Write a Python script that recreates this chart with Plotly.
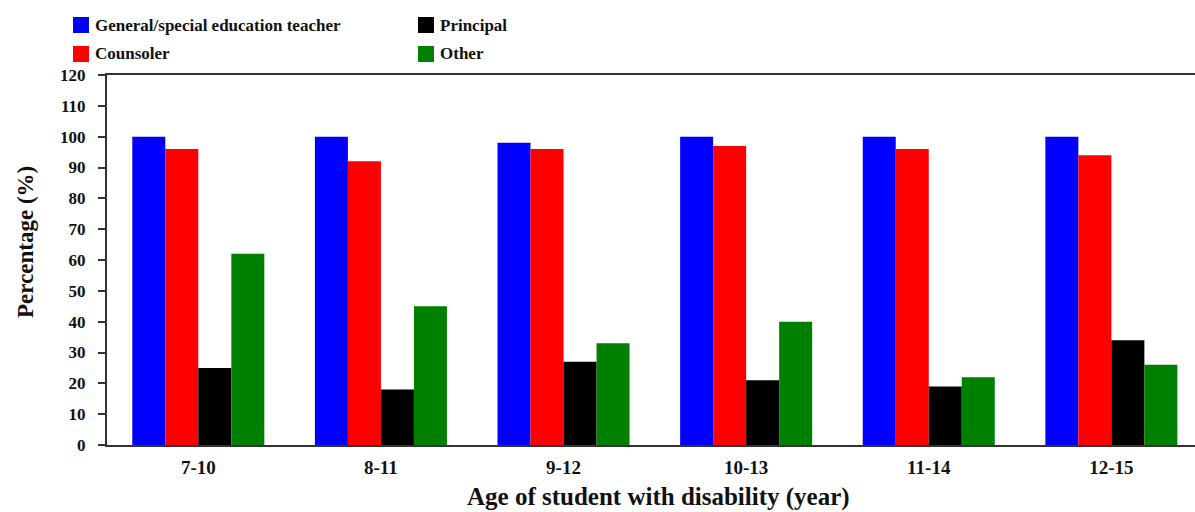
import plotly.graph_objects as go

categories = ["7-10", "8-11", "9-12", "10-13", "11-14", "12-15"]
teacher = [100, 100, 98, 100, 100, 100]
counselor = [96, 92, 96, 97, 96, 94]
principal = [25, 18, 27, 21, 19, 34]
other = [62, 45, 33, 40, 22, 26]

series_names = ["General/special education teacher", "Counsoler", "Principal", "Other"]
series_values = [teacher, counselor, principal, other]
series_colors = ["#0000FF", "#FF0000", "#000000", "#008000"]

y_ticks = list(range(0, 121, 10))

FONT = "Liberation Serif"
W, H = 1195, 512
L, R, T, B = 107, 0, 75, 67

fig = go.Figure()
for name, vals, col in zip(series_names, series_values, series_colors):
    fig.add_trace(go.Bar(x=categories, y=vals, name=name, marker=dict(color=col, line=dict(width=0)),
                         showlegend=False))

# manual legend (2x2 grid)
pw = W - L - R
ph = H - T - B
def px_x(x):
    return (x - L) / pw
def px_y(y):
    return (H - B - y) / ph

legend_pos = {  # name -> (square left px, row center px)
    "General/special education teacher": (73, 25),
    "Principal": (418, 25),
    "Counsoler": (73, 54),
    "Other": (418, 54),
}
for name, col in zip(series_names, series_colors):
    lx, cy = legend_pos[name]
    fig.add_shape(type="rect", xref="paper", yref="paper",
                  x0=px_x(lx), x1=px_x(lx + 16), y0=px_y(cy - 8), y1=px_y(cy + 8),
                  fillcolor=col, line=dict(width=0))
    fig.add_annotation(xref="paper", yref="paper", x=px_x(lx + 20), y=px_y(cy),
                       xanchor="left", yanchor="middle", showarrow=False,
                       text="<b>" + name + "</b>", font=dict(family=FONT, size=17, color="#111"))

fig.add_annotation(xref="paper", yref="paper", x=px_x(25), y=px_y(242),
                   textangle=-90, showarrow=False, xanchor="center", yanchor="middle",
                   text="<b>Percentage (%)</b>", font=dict(family=FONT, size=23, color="#111"))

fig.add_annotation(xref="paper", yref="paper", x=px_x(658), y=px_y(497),
                   showarrow=False, xanchor="center", yanchor="middle",
                   text="<b>Age of student with disability (year)</b>",
                   font=dict(family=FONT, size=25, color="#111"))

fig.update_layout(
    width=W, height=H,
    margin=dict(l=L, r=R, t=T, b=B, pad=0),
    paper_bgcolor="white", plot_bgcolor="white",
    barmode="group", bargap=0.277, bargroupgap=0,
    font=dict(family=FONT, color="#111"),
    xaxis=dict(
        range=[-0.5, 5.458], showgrid=False, showline=True, linecolor="#333", linewidth=2,
        mirror=True, ticks="", ticklabelstandoff=4,
        tickfont=dict(family=FONT, size=19, color="#111", weight="bold"),
    ),
    yaxis=dict(
        range=[0, 120], tickvals=y_ticks, showgrid=False, zeroline=False,
        showline=True, linecolor="#333", linewidth=2, ticks="outside", ticklen=7,
        tickwidth=2, tickcolor="#333", ticklabelstandoff=9,
        tickfont=dict(family=FONT, size=17, color="#111", weight="bold"),
    ),
)

fig.write_html("out.html", config={"displayModeBar": False},
               post_script="document.body.style.margin='0';document.body.style.overflow='hidden';")
